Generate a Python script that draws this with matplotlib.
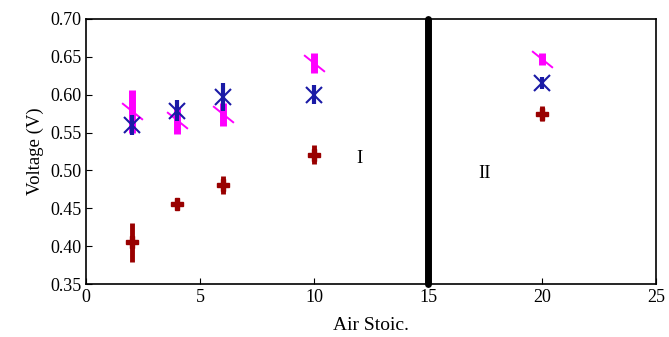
import matplotlib
matplotlib.use("Agg")
import matplotlib.pyplot as plt

plt.rcParams['font.family'] = ['Liberation Serif', 'DejaVu Serif']

# data
air_stoic = [2, 4, 6, 10, 20]

v_pink = [0.578, 0.566, 0.574, 0.642, 0.647]
e_pink = [0.028, 0.018, 0.015, 0.013, 0.008]

v_blue = [0.560, 0.579, 0.597, 0.600, 0.615]
e_blue = [0.013, 0.014, 0.018, 0.013, 0.008]

v_red = [0.405, 0.456, 0.481, 0.521, 0.575]
e_red = [0.026, 0.007, 0.012, 0.012, 0.010]

boundary_x = 15
region_labels = ['I', 'II']
region_pos = [(12.0, 0.516), (17.5, 0.496)]

fig = plt.figure(figsize=(6.69, 3.37), dpi=100)
ax = fig.add_axes([0.1286, 0.157, 0.852, 0.787])

slash = [(-1, 0.8), (1, -0.8)]
ax.errorbar(air_stoic, v_pink, yerr=e_pink, fmt='none', ecolor='#ff00ff',
            elinewidth=5, capsize=0, zorder=2)
ax.plot(air_stoic, v_pink, linestyle='none', marker=slash, markersize=15,
        markeredgecolor='#ff00ff', markeredgewidth=1.4, zorder=2)

ax.errorbar(air_stoic, v_blue, yerr=e_blue, fmt='none', ecolor='#1a1aa6',
            elinewidth=3, capsize=0, zorder=3)
ax.plot(air_stoic, v_blue, linestyle='none', marker='x', markersize=12,
        markeredgecolor='#1a1aa6', markeredgewidth=1.5, zorder=3)

ax.errorbar(air_stoic, v_red, yerr=e_red, fmt='none', ecolor='#990000',
            elinewidth=3.5, capsize=0, zorder=3)
ax.plot(air_stoic, v_red, linestyle='none', marker='P', markersize=8,
        color='#990000', zorder=3)

ax.plot([boundary_x, boundary_x], [0.35, 0.70], color='black', linewidth=5,
        solid_capstyle='round', clip_on=False, zorder=4)

for lab, (tx, ty) in zip(region_labels, region_pos):
    ax.text(tx, ty, lab, fontsize=13.5, ha='center', va='center')

ax.set_xlim(0, 25)
ax.set_ylim(0.35, 0.70)
ax.set_xticks([0, 5, 10, 15, 20, 25])
ax.set_yticks([0.35, 0.40, 0.45, 0.50, 0.55, 0.60, 0.65, 0.70])
ax.set_yticklabels(['%.2f' % v for v in ax.get_yticks()])
ax.tick_params(direction='in', labelsize=13, length=4)
ax.set_xlabel('Air Stoic.', fontsize=14, labelpad=8)
ax.set_ylabel('Voltage (V)', fontsize=13.5)
for s in ax.spines.values():
    s.set_linewidth(1.2)

fig.savefig('out.png', dpi=100)
